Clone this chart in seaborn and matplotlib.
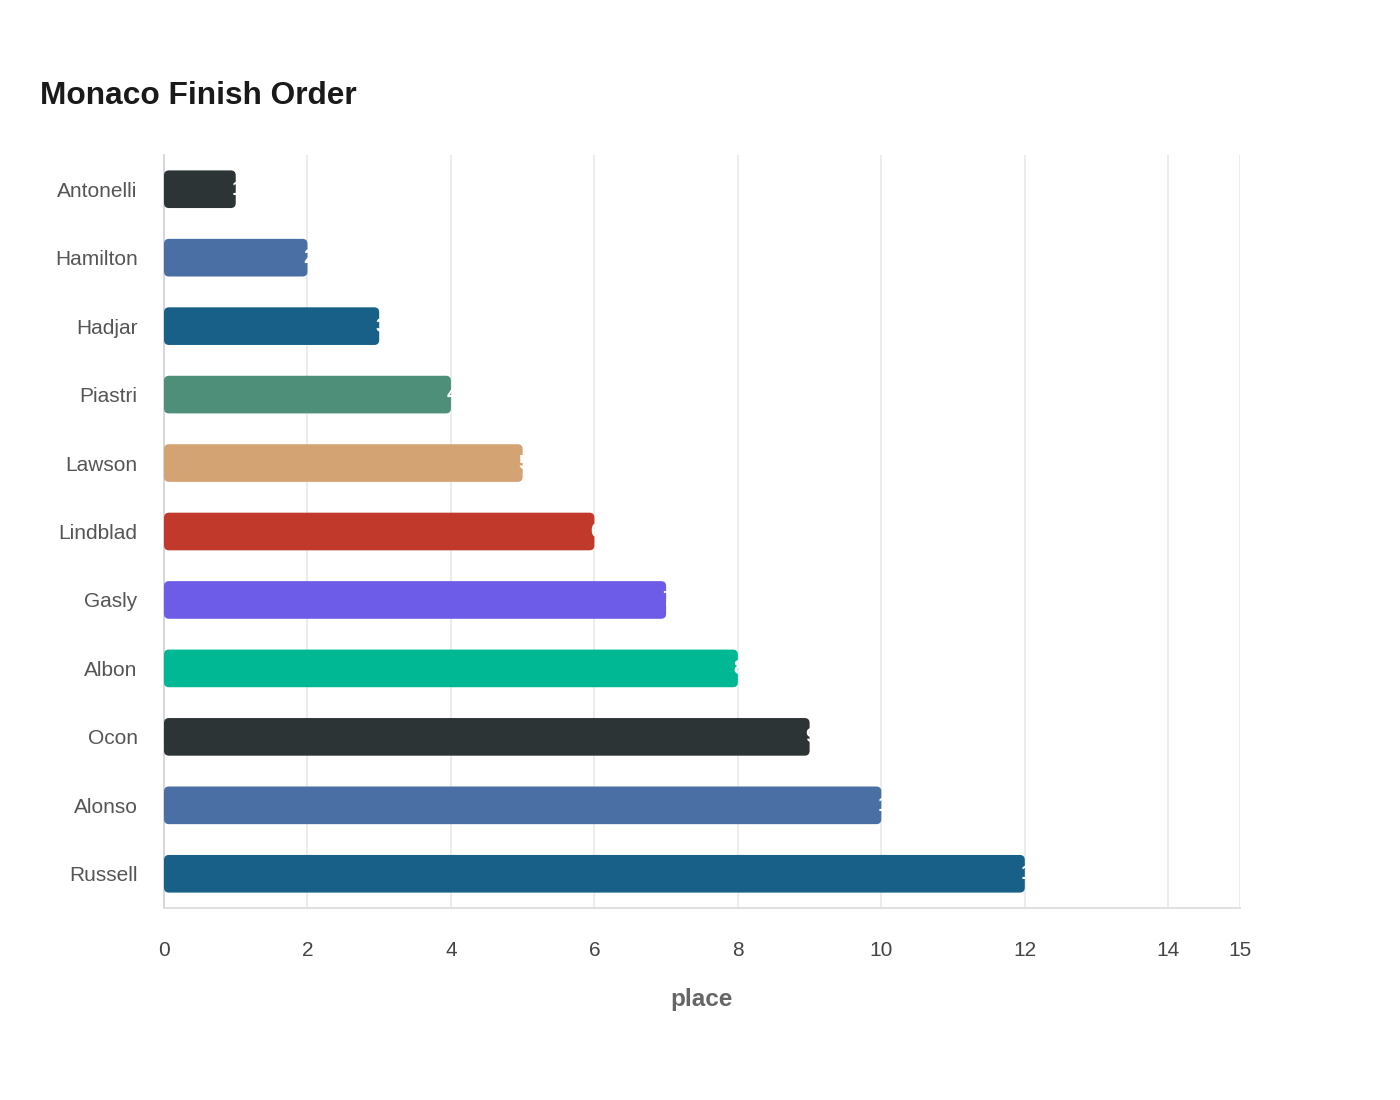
import matplotlib
matplotlib.use("Agg")
import matplotlib.pyplot as plt
from matplotlib.patches import FancyBboxPatch
import seaborn as sns
import pandas as pd

drivers = ["Antonelli", "Hamilton", "Hadjar", "Piastri", "Lawson", "Lindblad",
           "Gasly", "Albon", "Ocon", "Alonso", "Russell"]
places = [1, 2, 3, 4, 5, 6, 7, 8, 9, 10, 12]
colors = ["#2d3436", "#4a6fa5", "#186088", "#4e8f7a", "#d4a373", "#c0392b",
          "#6c5ce7", "#00b894", "#2d3436", "#4a6fa5", "#186088"]
xticks = [0, 2, 4, 6, 8, 10, 12, 14, 15]

sns.set_theme(style="white")
plt.rcParams['font.family'] = ['Liberation Sans', 'DejaVu Sans']

df = pd.DataFrame({"driver": drivers, "place": places})

fig = plt.figure(figsize=(14, 11), dpi=100)
ax = fig.add_axes([164/1400, 1 - 908/1100, (1240-164)/1400, (908-155)/1100])

sns.barplot(data=df, y="driver", x="place", hue="driver", palette=colors,
            order=drivers, hue_order=drivers, width=0.55, legend=False,
            dodge=False, ax=ax, zorder=3, saturation=1)

# rounded bars
xpx = (1240 - 164) / 15.0
ypx = (908 - 155) / 11.0
r = 5.0 / xpx
for p in list(ax.patches):
    x, y = p.get_x(), p.get_y()
    w, h = p.get_width(), p.get_height()
    fc = p.get_facecolor()
    p.remove()
    fb = FancyBboxPatch((x, y), w, h,
                        boxstyle=f"round,pad=0,rounding_size={r}",
                        mutation_aspect=xpx / ypx,
                        facecolor=fc, edgecolor="none", zorder=3)
    ax.add_patch(fb)

for i, v in enumerate(places):
    ax.annotate(str(v), xy=(v, i), xytext=(-3, 0), textcoords="offset points",
                ha="left", va="center", color="white",
                fontsize=15, fontweight="bold", zorder=4)

ax.set_xlim(0, 15)
ax.set_ylim(10.5, -0.5)
ax.set_xticks(xticks)
ax.set_xticklabels([str(t) for t in xticks])
ax.grid(axis="x", color="#ebebeb", linewidth=1.3, zorder=0)
ax.grid(axis="y", visible=False)

for s in ["top", "right"]:
    ax.spines[s].set_visible(False)
ax.spines["left"].set_color("#d3d3de")
ax.spines["bottom"].set_color("#dddddd")
ax.spines["left"].set_linewidth(1.3)
ax.spines["bottom"].set_linewidth(1.3)

ax.tick_params(axis="x", length=12, color="#ebebeb", width=1.3, pad=12,
               labelsize=15, labelcolor="#444444")
ax.tick_params(axis="y", length=0, pad=19, labelsize=15, labelcolor="#555555")

ax.set_ylabel("")
ax.set_xlabel("place", fontsize=17.5, fontweight="bold", color="#666666", labelpad=20)

fig.text(40/1400, 1 - 96/1100, "Monaco Finish Order", fontsize=22.8,
         fontweight="bold", color="#1a1a1a", ha="left", va="center")

fig.savefig("out.png", dpi=100, facecolor="white")
